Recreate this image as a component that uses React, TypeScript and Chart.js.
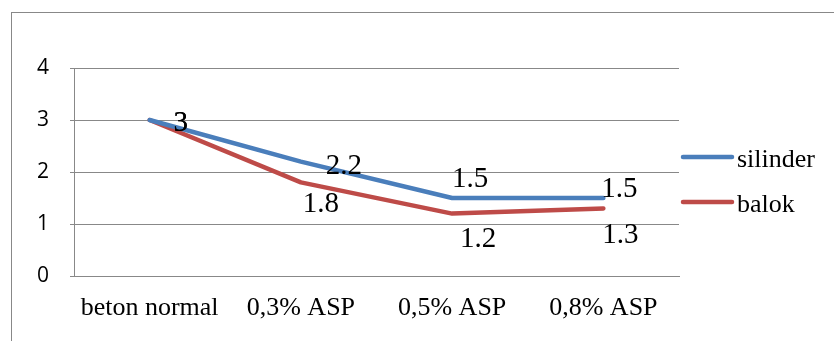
import React, { useEffect, useRef } from "react";
import { Chart, registerables } from "chart.js";

Chart.register(...registerables);

const categories = ["beton normal", "0,3% ASP", "0,5% ASP", "0,8% ASP"];
const silinder = [3, 2.2, 1.5, 1.5];
const balok = [3, 1.8, 1.2, 1.3];
const yTicks = [0, 1, 2, 3, 4];

// Value-label offsets from each point (px), per series
const silinderLabelOffsets = [
  [31, 1],
  [43, 3],
  [18, -21],
  [16, -11],
];
const balokLabelOffsets = [
  [31, 1],
  [20, 20],
  [26, 24],
  [17, 25],
];

const BLUE = "#4A7EBB";
const RED = "#BE4B48";
const GRID = "#888888";
const SERIF = "'Liberation Serif', 'Times New Roman', serif";

const framePlugin = {
  id: "frame",
  beforeDraw(chart: any) {
    const ctx = chart.ctx;
    ctx.save();
    ctx.fillStyle = "#ffffff";
    ctx.fillRect(0, 0, chart.width, chart.height);
    ctx.strokeStyle = GRID;
    ctx.lineWidth = 1;
    ctx.strokeRect(11.5, 12.5, 840, 400);
    ctx.restore();
  },
};

const valueLabelPlugin = {
  id: "valueLabels",
  afterDatasetsDraw(chart: any) {
    const ctx = chart.ctx;
    const size = 29;
    ctx.save();
    ctx.font = `${size}px ${SERIF}`;
    ctx.fillStyle = "#000000";
    ctx.textAlign = "center";
    ctx.textBaseline = "alphabetic";
    chart.data.datasets.forEach((ds: any, di: number) => {
      const meta = chart.getDatasetMeta(di);
      const offsets = ds.labelOffsets as number[][];
      meta.data.forEach((pt: any, i: number) => {
        const [dx, dy] = offsets[i];
        ctx.fillText(String(ds.data[i]), pt.x + dx, pt.y + dy + size * 0.338);
      });
    });
    ctx.restore();
  },
};

const sideLegendPlugin = {
  id: "sideLegend",
  afterDraw(chart: any) {
    const ctx = chart.ctx;
    const x0 = chart.chartArea.right + 2;
    const rows = [157, 202];
    ctx.save();
    ctx.font = `26px ${SERIF}`;
    ctx.textAlign = "left";
    ctx.textBaseline = "alphabetic";
    chart.data.datasets.forEach((ds: any, di: number) => {
      const y = rows[di];
      ctx.strokeStyle = ds.borderColor;
      ctx.lineWidth = 4.5;
      ctx.lineCap = "round";
      ctx.beginPath();
      ctx.moveTo(x0 + 2, y);
      ctx.lineTo(x0 + 51, y);
      ctx.stroke();
      ctx.fillStyle = "#000000";
      ctx.fillText(ds.label, x0 + 56, y + 9.5);
    });
    ctx.restore();
  },
};

export default function App() {
  const canvasRef = useRef<HTMLCanvasElement | null>(null);

  useEffect(() => {
    document.body.style.margin = "0";
    const canvas = canvasRef.current;
    if (!canvas) return;
    const chart = new Chart(canvas, {
      type: "line",
      data: {
        labels: categories,
        datasets: [
          {
            label: "silinder",
            data: silinder,
            borderColor: BLUE,
            backgroundColor: BLUE,
            borderWidth: 4.5,
            borderCapStyle: "round",
            borderJoinStyle: "round",
            pointRadius: 0,
            tension: 0,
            labelOffsets: silinderLabelOffsets,
          } as any,
          {
            label: "balok",
            data: balok,
            borderColor: RED,
            backgroundColor: RED,
            borderWidth: 4.5,
            borderCapStyle: "round",
            borderJoinStyle: "round",
            pointRadius: 0,
            tension: 0,
            labelOffsets: balokLabelOffsets,
          } as any,
        ],
      },
      options: {
        animation: false,
        responsive: false,
        devicePixelRatio: 1,
        layout: { padding: { left: 0, top: 68, right: 155, bottom: 0 } },
        plugins: {
          legend: { display: false },
          tooltip: { enabled: false },
        },
        scales: {
          x: {
            offset: true,
            grid: { display: false, drawTicks: false },
            border: { display: true, color: GRID, width: 1 },
            ticks: {
              color: "#000000",
              font: { family: SERIF, size: 26 },
              padding: 17,
              maxRotation: 0,
              autoSkip: false,
            },
            afterFit(scale: any) {
              scale.height = 65;
            },
          },
          y: {
            min: 0,
            max: 4,
            afterBuildTicks(scale: any) {
              scale.ticks = yTicks.map((v) => ({ value: v }));
            },
            grid: {
              color: GRID,
              lineWidth: 1,
              drawTicks: true,
              tickLength: 4,
            },
            border: { display: true, color: GRID, width: 1 },
            ticks: {
              color: "#000000",
              font: { family: "'Open Sans', 'Noto Sans', sans-serif", size: 21 },
              padding: 21,
            },
            afterFit(scale: any) {
              scale.width = 74;
            },
          },
        },
      },
      plugins: [framePlugin, valueLabelPlugin, sideLegendPlugin],
    });
    return () => chart.destroy();
  }, []);

  return (
    <div style={{ position: "fixed", left: 0, top: 0, width: 834, height: 341 }}>
      <canvas ref={canvasRef} width={834} height={341} style={{ display: "block" }} />
    </div>
  );
}
